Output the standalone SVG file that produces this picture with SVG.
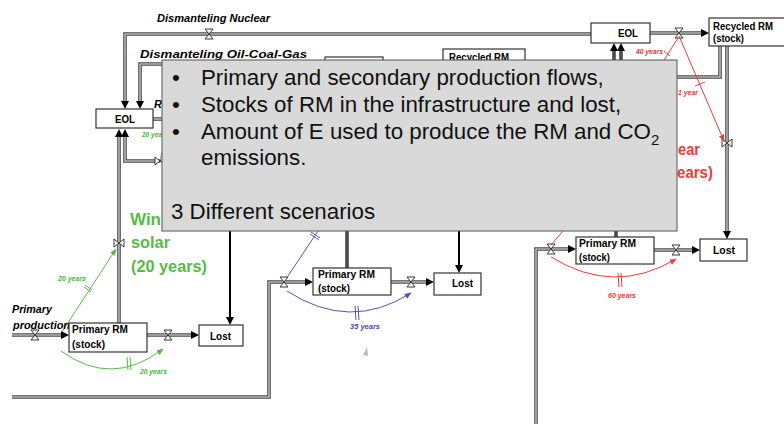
<svg xmlns="http://www.w3.org/2000/svg" width="784" height="424" viewBox="0 0 784 424">
<style>
.p{fill:none;stroke:#4a4a4a;stroke-width:3.6}
.pi{fill:none;stroke:#e8e8e8;stroke-width:1.1}
.box{fill:#fff;stroke:#333;stroke-width:1.2}
.lbl{font-family:"Liberation Sans",Arial,sans-serif;font-weight:bold;font-size:10.5px;fill:#000}
.it{font-family:"Liberation Sans",Arial,sans-serif;font-weight:bold;font-style:italic;font-size:11px;fill:#000}
.ar{fill:#000}
.vl{fill:#fff;stroke:#222;stroke-width:0.9}
.g{fill:none;stroke:#55bb44;stroke-width:1}
.b{fill:none;stroke:#5555b5;stroke-width:1}
.r{fill:none;stroke:#ee3a3a;stroke-width:1}
.gt{font-family:"Liberation Sans",Arial,sans-serif;font-weight:bold;font-style:italic;font-size:6.5px;fill:#44b833}
.bt{font-family:"Liberation Sans",Arial,sans-serif;font-weight:bold;font-style:italic;font-size:6.5px;fill:#4a4ab0}
.rt{font-family:"Liberation Sans",Arial,sans-serif;font-weight:bold;font-style:italic;font-size:6.5px;fill:#ee3333}
.big{font-family:"Liberation Sans",Arial,sans-serif;font-size:22.3px;fill:#111}
.gb{font-family:"Liberation Sans",Arial,sans-serif;font-weight:bold;font-size:17px;fill:#55bb44}
.rb{font-family:"Liberation Sans",Arial,sans-serif;font-weight:bold;font-size:17px;fill:#ee3a3a}
</style>
<defs>
<marker id="ga" viewBox="0 0 10 10" refX="9" refY="5" markerWidth="7" markerHeight="7" orient="auto" markerUnits="userSpaceOnUse"><path d="M0,1 L10,5 L0,9 Z" fill="#55bb44"/></marker>
<marker id="ba" viewBox="0 0 10 10" refX="9" refY="5" markerWidth="7" markerHeight="7" orient="auto" markerUnits="userSpaceOnUse"><path d="M0,1 L10,5 L0,9 Z" fill="#5555b5"/></marker>
<marker id="ra" viewBox="0 0 10 10" refX="9" refY="5" markerWidth="7" markerHeight="7" orient="auto" markerUnits="userSpaceOnUse"><path d="M0,1 L10,5 L0,9 Z" fill="#ee3a3a"/></marker>
<path id="pp1" d="M125,101 V34 H591"/>
<path id="pp2" d="M140,101 V64 H164"/>
<path id="pp3" d="M153,119 H164"/>
<path id="pp4" d="M119,137 V323"/>
<path id="pp5" d="M125,137 V161 H160"/>
<path id="pp6" d="M12,335 H62"/>
<path id="pp7" d="M147,335 H192"/>
<path id="pp8" d="M12,397 H269 V282 H306"/>
<path id="pp9" d="M391,282 H427"/>
<path id="pp10" d="M347,231 V268"/>
<path id="pp11" d="M536,424 V249 H569"/>
<path id="pp12" d="M654,250 H693"/>
<path id="pp13" d="M650,33 H702"/>
<path id="pp14" d="M727,46 V232"/>
<path id="pp15" d="M720,46 V77 H675"/>
<path id="pp16" d="M614,51 V62"/>
<path id="pp17" d="M621,51 V62"/>
<path id="pp18" d="M616,229 V237"/>
</defs>

<g id="connectors">
<use href="#pp1" class="p"/><use href="#pp1" class="pi"/>
<use href="#pp2" class="p"/><use href="#pp2" class="pi"/>
<use href="#pp3" class="p"/><use href="#pp3" class="pi"/>
<use href="#pp4" class="p"/><use href="#pp4" class="pi"/>
<use href="#pp5" class="p"/><use href="#pp5" class="pi"/>
<use href="#pp6" class="p"/><use href="#pp6" class="pi"/>
<use href="#pp7" class="p"/><use href="#pp7" class="pi"/>
<use href="#pp8" class="p"/><use href="#pp8" class="pi"/>
<use href="#pp9" class="p"/><use href="#pp9" class="pi"/>
<use href="#pp10" class="p"/>
<use href="#pp11" class="p"/><use href="#pp11" class="pi"/>
<use href="#pp12" class="p"/><use href="#pp12" class="pi"/>
<use href="#pp13" class="p"/><use href="#pp13" class="pi"/>
<use href="#pp14" class="p"/><use href="#pp14" class="pi"/>
<use href="#pp15" class="p"/><use href="#pp15" class="pi"/>
<use href="#pp16" class="p"/><use href="#pp17" class="p"/>
<use href="#pp18" class="p"/>
<path d="M230,229 V318" stroke="#000" stroke-width="2" fill="none"/>
<path d="M459,229 V266" stroke="#000" stroke-width="2" fill="none"/>
<path class="ar" d="M121,101 L129,101 L125,109 Z"/>
<path class="ar" d="M136,101 L144,101 L140,109 Z"/>
<path class="ar" d="M115,137 L123,137 L119,129 Z"/>
<path class="ar" d="M121,137 L129,137 L125,129 Z"/>
<path class="ar" d="M61,331 L69,335 L61,339 Z"/>
<path class="ar" d="M191,331 L199,335 L191,339 Z"/>
<path class="ar" d="M305,278 L313,282 L305,286 Z"/>
<path class="ar" d="M426,278 L434,282 L426,286 Z"/>
<path class="ar" d="M568,245 L576,249 L568,253 Z"/>
<path class="ar" d="M692,246 L700,250 L692,254 Z"/>
<path class="ar" d="M701,29 L709,33 L701,37 Z"/>
<path class="ar" d="M723,231 L731,231 L727,239 Z"/>
<path class="ar" d="M226,317 L234,317 L230,325 Z"/>
<path class="ar" d="M455,265 L463,265 L459,273 Z"/>
<path class="ar" d="M610,51 L618,51 L614,43 Z"/>
<path class="ar" d="M617,51 L625,51 L621,43 Z"/>
<path class="vl" d="M205,29 H213 L205,39 H213 Z"/>
<path class="vl" d="M31,330 H39 L31,340 H39 Z"/>
<path class="vl" d="M164,330 H172 L164,340 H172 Z"/>
<path class="vl" d="M280,277 H288 L280,287 H288 Z"/>
<path class="vl" d="M407,277 H415 L407,287 H415 Z"/>
<path class="vl" d="M547,244 H555 L547,254 H555 Z"/>
<path class="vl" d="M672,245 H680 L672,255 H680 Z"/>
<path class="vl" d="M675,28 H683 L675,38 H683 Z"/>
<path class="vl" d="M114,239 V247 L124,239 V247 Z"/>
<path class="vl" d="M722,139 V147 L732,139 V147 Z"/>
<path class="vl" d="M155,157 V165 L165,157 V165 Z"/>
<path class="g" d="M62,332 L116,249" marker-end="url(#ga)"/>
<path class="g" d="M84,287 L91,292 M85,285 L92,290"/>
<path class="g" d="M61,351 Q112,388 163,349" marker-end="url(#ga)"/>
<path class="g" d="M127,357 L128,370 M130,357 L131,370"/>
<path class="g" d="M160,160 L163,149"/>
<path class="b" d="M286,279 L318,231"/>
<path class="b" d="M311,232 L320,238 M310,234 L319,240"/>
<path class="b" d="M287,291 Q350,332 411,293" marker-end="url(#ba)"/>
<path class="b" d="M355,306 L356,320 M358,306 L359,320"/>
<path class="r" d="M563,231 L551,245"/>
<path class="r" d="M551,257 Q614,296 676,259" marker-end="url(#ra)"/>
<path class="r" d="M618,273 L619,287 M621,273 L622,287"/>
<path class="r" d="M679,36 L724,141" marker-end="url(#ra)"/>
<path class="r" d="M695,86 L705,82"/>
<path class="r" d="M664,60 L678,38"/>
<path class="r" d="M664,51 L670,56"/>
<path d="M363,355 L367,347 L368,356 Z" fill="#bbb"/>
</g>

<g id="labels">
<text class="it" x="157" y="22" textLength="113" lengthAdjust="spacingAndGlyphs">Dismanteling Nuclear</text>
<text class="it" x="140" y="58" textLength="167" lengthAdjust="spacingAndGlyphs">Dismanteling Oil-Coal-Gas</text>
<text class="it" x="12" y="313" textLength="40" lengthAdjust="spacingAndGlyphs">Primary</text>
<text class="it" x="13" y="329" textLength="57" lengthAdjust="spacingAndGlyphs">production</text>
<text class="it" x="154" y="108" font-size="10">R</text>
<text class="gt" x="58" y="281" textLength="28" lengthAdjust="spacingAndGlyphs">20 years</text>
<text class="gt" x="140" y="374" textLength="27" lengthAdjust="spacingAndGlyphs">20 years</text>
<text class="gt" x="142" y="137">20 years</text>
<text class="bt" x="350" y="329" textLength="30" lengthAdjust="spacingAndGlyphs">35 years</text>
<text class="rt" x="608" y="298" textLength="28" lengthAdjust="spacingAndGlyphs">60 years</text>
<text class="rt" x="678" y="95" textLength="20" lengthAdjust="spacingAndGlyphs">1 year</text>
<text class="rt" x="636" y="54" textLength="27" lengthAdjust="spacingAndGlyphs">40 years</text>
<text class="gb" x="130" y="225" textLength="31" lengthAdjust="spacingAndGlyphs">Win</text>
<text class="gb" x="131" y="248" textLength="39" lengthAdjust="spacingAndGlyphs">solar</text>
<text class="gb" x="131" y="272" textLength="76" lengthAdjust="spacingAndGlyphs">(20 years)</text>
<text class="rb" x="678" y="155" textLength="22" lengthAdjust="spacingAndGlyphs">ear</text>
<text class="rb" x="677" y="178" textLength="36" lengthAdjust="spacingAndGlyphs">ears)</text>
</g>

<g id="eol-left"><rect class="box" x="96" y="109" width="57" height="19"/><text class="lbl" x="115" y="123" textLength="20" lengthAdjust="spacingAndGlyphs">EOL</text></g>
<g id="eol-right"><rect class="box" x="591" y="23" width="59" height="20"/><text class="lbl" x="618" y="37" textLength="20" lengthAdjust="spacingAndGlyphs">EOL</text></g>
<g id="recycled-right"><rect class="box" x="709" y="18" width="80" height="28"/><text class="lbl" x="713" y="30" textLength="60" lengthAdjust="spacingAndGlyphs">Recycled RM</text><text class="lbl" x="713" y="42" textLength="31" lengthAdjust="spacingAndGlyphs">(stock)</text></g>
<g id="box-mid-top"><rect class="box" x="325" y="57" width="58" height="20"/></g>
<g id="recycled-mid"><rect class="box" x="443" y="49" width="82" height="20"/><text class="lbl" x="449" y="61" font-size="9" textLength="60" lengthAdjust="spacingAndGlyphs">Recycled RM</text></g>
<g id="stock-left"><rect class="box" x="69" y="323" width="78" height="29"/><text class="lbl" x="72" y="333" textLength="56" lengthAdjust="spacingAndGlyphs">Primary RM</text><text class="lbl" x="72" y="348" textLength="33" lengthAdjust="spacingAndGlyphs">(stock)</text></g>
<g id="lost-left"><rect class="box" x="199" y="325" width="44" height="21"/><text class="lbl" x="210" y="340" textLength="21" lengthAdjust="spacingAndGlyphs">Lost</text></g>
<g id="stock-mid"><rect class="box" x="313" y="268" width="78" height="27"/><text class="lbl" x="318" y="278" textLength="57" lengthAdjust="spacingAndGlyphs">Primary RM</text><text class="lbl" x="318" y="292" textLength="32" lengthAdjust="spacingAndGlyphs">(stock)</text></g>
<g id="lost-mid"><rect class="box" x="434" y="273" width="47" height="22"/><text class="lbl" x="452" y="287" textLength="21" lengthAdjust="spacingAndGlyphs">Lost</text></g>
<g id="stock-right"><rect class="box" x="576" y="237" width="78" height="27"/><text class="lbl" x="579" y="247" textLength="57" lengthAdjust="spacingAndGlyphs">Primary RM</text><text class="lbl" x="579" y="261" textLength="31" lengthAdjust="spacingAndGlyphs">(stock)</text></g>
<g id="lost-right"><rect class="box" x="700" y="239" width="47" height="22"/><text class="lbl" x="713" y="254" textLength="22" lengthAdjust="spacingAndGlyphs">Lost</text></g>

<g id="overlay">
<rect x="162" y="60" width="515" height="171" fill="#d9d9d9" stroke="#555" stroke-width="1"/>
<text class="big" x="172" y="85">•</text>
<text class="big" x="201" y="85">Primary and secondary production flows,</text>
<text class="big" x="172" y="112">•</text>
<text class="big" x="201" y="112">Stocks of RM in the infrastructure and lost,</text>
<text class="big" x="172" y="139">•</text>
<text class="big" x="201" y="139">Amount of E used to produce the RM and CO<tspan font-size="15" dy="6">2</tspan></text>
<text class="big" x="201" y="165">emissions.</text>
<text class="big" x="171" y="219">3 Different scenarios</text>
</g>
</svg>
